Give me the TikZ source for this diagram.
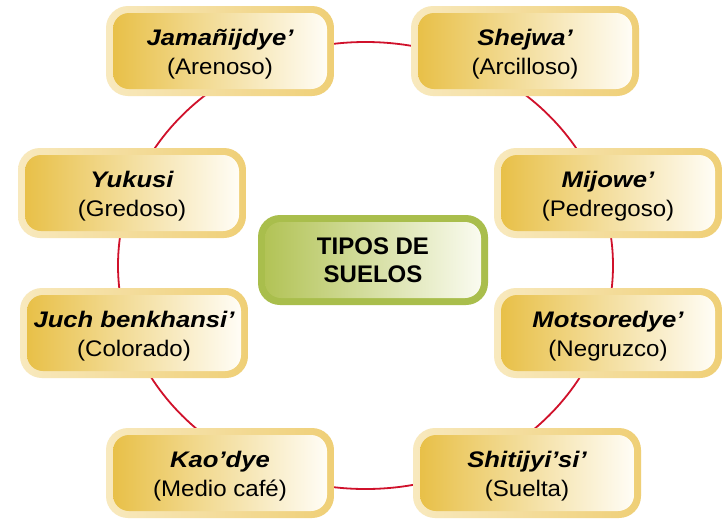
\documentclass[tikz,border=0pt]{standalone}
\usepackage{fontspec}
\setmainfont{Liberation Sans}
\newfontfamily\soiltitlefont[FakeStretch=1.14]{Liberation Sans}
\newfontfamily\soilsubfont[FakeStretch=1.07]{Liberation Sans}
\begin{document}
\begin{tikzpicture}[x=1pt,y=-1pt,
  soilframe/.style={rounded corners=22pt, minimum width=228pt, minimum height=90pt,
    left color=goldpale, right color=goldframe, inner sep=0pt},
  soilfill/.style={rounded corners=16pt, minimum width=214pt, minimum height=76pt,
    left color=goldfill, right color=goldwhite, inner sep=0pt},
  soiltext/.style={align=center, inner sep=0pt, font=\fontsize{22.5}{29}\selectfont},
  centerframe/.style={rounded corners=22pt, minimum width=230pt, minimum height=90pt,
    fill=greenframe, inner sep=0pt},
  centerfill/.style={rounded corners=16pt, minimum width=216pt, minimum height=76pt,
    left color=greenfill, right color=greenwhite, inner sep=0pt, align=center,
    font=\fontsize{24}{28}\selectfont\bfseries},
  ring/.style={draw=ringred, line width=1.8pt}
]
\definecolor{goldpale}{HTML}{F8E9BE}
\definecolor{goldframe}{HTML}{EFCF76}
\definecolor{goldfill}{HTML}{E8C048}
\definecolor{goldwhite}{HTML}{FFFDF6}
\definecolor{greenframe}{HTML}{A9BE4C}
\definecolor{greenfill}{HTML}{B2C356}
\definecolor{greenwhite}{HTML}{FAFBF0}
\definecolor{ringred}{HTML}{D0112B}
\useasboundingbox (0,0) rectangle (727,520);
\fill[white] (0,0) rectangle (727,520);
\coordinate (rc) at (365.5,265.5);
\draw[ring] (rc) ellipse [x radius=247.5, y radius=223.5];

\newcommand{\soil}[5]{%
  \node[soilframe] (#1) at (#2,#3) {};
  \node[soilfill] (#1-f) at (#1) {};
  \node[soiltext] (#1-t) at ([yshift=-3pt]#1) {{\soiltitlefont\bfseries\itshape #4}\\{\soilsubfont #5}};
}
\soil{jam}{220}{51}{Jamañijdye’}{(Arenoso)}
\soil{she}{525}{51}{Shejwa’}{(Arcilloso)}
\soil{yuk}{132}{193}{Yukusi}{(Gredoso)}
\soil{mij}{608}{193}{Mijowe’}{(Pedregoso)}
\soil{juc}{134}{333}{Juch benkhansi’}{(Colorado)}
\soil{mot}{608}{333}{Motsoredye’}{(Negruzco)}
\soil{kao}{220}{473}{Kao’dye}{(Medio café)}
\soil{shi}{527}{473}{Shitijyi’si’}{(Suelta)}

\node[centerframe] (tip) at (373,260) {};
\node[centerfill] (tip-t) at (tip) {TIPOS DE\\SUELOS};
\end{tikzpicture}
\end{document}
